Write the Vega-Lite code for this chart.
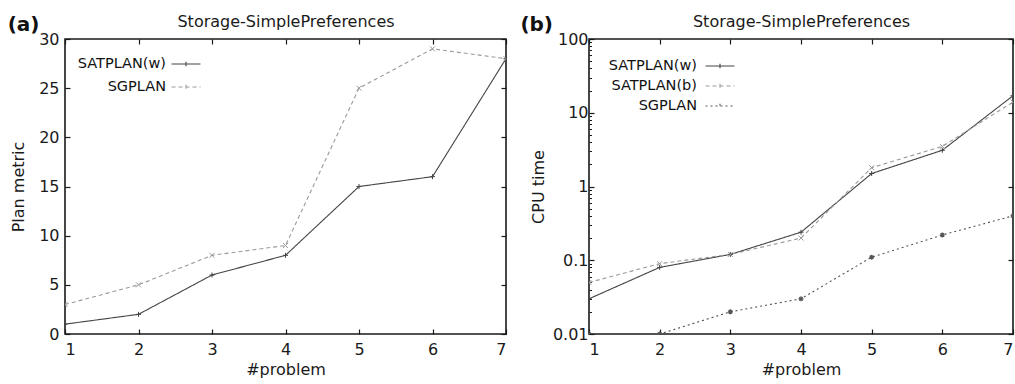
{
  "$schema": "https://vega.github.io/schema/vega-lite/v6.json",
  "padding": {"left": 6, "top": 12, "right": 0, "bottom": 0},
  "bounds": "flush",
  "spacing": 83,
  "background": "white",
  "config": {
    "font": "DejaVu Sans",
    "view": {"stroke": "#1a1a1a", "strokeWidth": 1.6},
    "axis": {"grid": false, "domain": false, "tickColor": "#1a1a1a", "tickSize": -5, "tickWidth": 1.2,
      "labelFont": "DejaVu Sans", "labelFontSize": 16, "labelColor": "#1a1a1a",
      "titleFont": "DejaVu Sans", "titleFontSize": 16, "titleFontWeight": "normal", "titleColor": "#1a1a1a"},
    "title": {"font": "DejaVu Sans", "color": "#111111"}
  },
  "datasets": {
    "metric": [
      {"problem": 1, "planner": "SATPLAN(w)", "value": 1},
      {"problem": 2, "planner": "SATPLAN(w)", "value": 2},
      {"problem": 3, "planner": "SATPLAN(w)", "value": 6},
      {"problem": 4, "planner": "SATPLAN(w)", "value": 8},
      {"problem": 5, "planner": "SATPLAN(w)", "value": 15},
      {"problem": 6, "planner": "SATPLAN(w)", "value": 16},
      {"problem": 7, "planner": "SATPLAN(w)", "value": 28},
      {"problem": 1, "planner": "SGPLAN", "value": 3},
      {"problem": 2, "planner": "SGPLAN", "value": 5},
      {"problem": 3, "planner": "SGPLAN", "value": 8},
      {"problem": 4, "planner": "SGPLAN", "value": 9},
      {"problem": 5, "planner": "SGPLAN", "value": 25},
      {"problem": 6, "planner": "SGPLAN", "value": 29},
      {"problem": 7, "planner": "SGPLAN", "value": 28}
    ],
    "cpu": [
      {"problem": 1, "planner": "SATPLAN(w)", "value": 0.03},
      {"problem": 2, "planner": "SATPLAN(w)", "value": 0.08},
      {"problem": 3, "planner": "SATPLAN(w)", "value": 0.12},
      {"problem": 4, "planner": "SATPLAN(w)", "value": 0.24},
      {"problem": 5, "planner": "SATPLAN(w)", "value": 1.5},
      {"problem": 6, "planner": "SATPLAN(w)", "value": 3.1},
      {"problem": 7, "planner": "SATPLAN(w)", "value": 17},
      {"problem": 1, "planner": "SATPLAN(b)", "value": 0.05},
      {"problem": 2, "planner": "SATPLAN(b)", "value": 0.09},
      {"problem": 3, "planner": "SATPLAN(b)", "value": 0.12},
      {"problem": 4, "planner": "SATPLAN(b)", "value": 0.2},
      {"problem": 5, "planner": "SATPLAN(b)", "value": 1.8},
      {"problem": 6, "planner": "SATPLAN(b)", "value": 3.5},
      {"problem": 7, "planner": "SATPLAN(b)", "value": 14},
      {"problem": 1, "planner": "SGPLAN", "value": 0.01},
      {"problem": 2, "planner": "SGPLAN", "value": 0.01},
      {"problem": 3, "planner": "SGPLAN", "value": 0.02},
      {"problem": 4, "planner": "SGPLAN", "value": 0.03},
      {"problem": 5, "planner": "SGPLAN", "value": 0.11},
      {"problem": 6, "planner": "SGPLAN", "value": 0.22},
      {"problem": 7, "planner": "SGPLAN", "value": 0.4}
    ]
  },
  "resolve": {
    "scale": {"x": "independent", "y": "independent", "color": "independent", "strokeDash": "independent"},
    "legend": {"color": "independent", "strokeDash": "independent"}
  },
  "hconcat": [
    {
      "width": 441, "height": 295,
      "data": {"name": "metric"},
      "title": {"text": "(a)", "anchor": "start", "frame": "bounds", "fontSize": 20, "fontWeight": "bold", "offset": -22, "dx": -3},
      "resolve": {"axis": {"x": "independent", "y": "independent"}},
      "layer": [
        {
          "mark": {"type": "line", "strokeWidth": 1.1, "clip": true},
          "encoding": {
            "x": {"field": "problem", "type": "quantitative", "scale": {"domain": [1, 7], "nice": false, "zero": false},
              "axis": {"orient": "bottom", "values": [1, 2, 3, 4, 5, 6, 7], "format": "d", "title": "#problem", "labelPadding": 12, "titlePadding": 4}},
            "y": {"field": "value", "type": "quantitative", "scale": {"domain": [0, 30], "nice": false},
              "axis": {"orient": "left", "values": [0, 5, 10, 15, 20, 25, 30], "title": "Plan metric", "labelPadding": 11, "titlePadding": 12}},
            "color": {"field": "planner", "type": "nominal", "scale": {"domain": ["SATPLAN(w)", "SGPLAN"], "range": ["#444444", "#9a9a9a"]},
              "legend": {"orient": "none", "legendX": 113, "legendY": 17, "title": null, "symbolType": "M-2,0H2M0,-0.3V0.3", "symbolSize": 210, "symbolStrokeWidth": 1.1, "labelAlign": "right", "labelOffset": -28, "labelFontSize": 14.5, "labelColor": "#111111", "labelFont": "DejaVu Sans", "rowPadding": 8, "padding": 0}},
            "strokeDash": {"field": "planner", "type": "nominal", "scale": {"domain": ["SATPLAN(w)", "SGPLAN"], "range": [[1, 0], [4, 3]]},
              "legend": {"orient": "none", "legendX": 113, "legendY": 17, "title": null, "symbolType": "M-2,0H2M0,-0.3V0.3", "symbolSize": 210, "symbolStrokeWidth": 1.1, "labelAlign": "right", "labelOffset": -28, "labelFontSize": 14.5, "labelColor": "#111111", "labelFont": "DejaVu Sans", "rowPadding": 8, "padding": 0}}
          }
        },
        {
          "transform": [{"filter": "datum.planner === 'SATPLAN(w)'"}],
          "mark": {"type": "point", "filled": false, "size": 25, "strokeWidth": 1, "opacity": 1, "color": "#444444", "shape": "M-1,0H1M0,-1V1", "clip": true},
          "encoding": {
            "x": {"field": "problem", "type": "quantitative", "scale": {"domain": [1, 7], "nice": false, "zero": false},
              "axis": {"orient": "top", "values": [1, 2, 3, 4, 5, 6, 7], "labels": false, "title": "Storage-SimplePreferences", "titlePadding": 9}},
            "y": {"field": "value", "type": "quantitative", "scale": {"domain": [0, 30], "nice": false},
              "axis": {"orient": "right", "values": [0, 5, 10, 15, 20, 25, 30], "labels": false, "title": null}}
          }
        },
        {
          "transform": [{"filter": "datum.planner === 'SGPLAN'"}],
          "mark": {"type": "point", "filled": false, "size": 25, "strokeWidth": 1, "opacity": 1, "color": "#9a9a9a", "shape": "M-1,-1L1,1M-1,1L1,-1", "clip": true},
          "encoding": {
            "x": {"field": "problem", "type": "quantitative", "axis": null},
            "y": {"field": "value", "type": "quantitative", "axis": null}
          }
        }
      ]
    },
    {
      "width": 424, "height": 295,
      "data": {"name": "cpu"},
      "title": {"text": "(b)", "anchor": "start", "frame": "bounds", "fontSize": 20, "fontWeight": "bold", "offset": -22, "dx": -10},
      "resolve": {"axis": {"x": "independent", "y": "independent"}},
      "layer": [
        {
          "mark": {"type": "line", "strokeWidth": 1.1, "clip": true},
          "encoding": {
            "x": {"field": "problem", "type": "quantitative", "scale": {"domain": [1, 7], "nice": false, "zero": false},
              "axis": {"orient": "bottom", "values": [1, 2, 3, 4, 5, 6, 7], "format": "d", "title": "#problem", "labelPadding": 12, "titlePadding": 4, "labelFlush": true}},
            "y": {"field": "value", "type": "quantitative", "scale": {"type": "log", "domain": [0.01, 100], "nice": false},
              "axis": {"orient": "left", "values": [0.01, 0.1, 1, 10, 100], "format": "~g", "title": "CPU time", "labelPadding": 6, "titlePadding": 6}},
            "color": {"field": "planner", "type": "nominal", "scale": {"domain": ["SATPLAN(w)", "SATPLAN(b)", "SGPLAN"], "range": ["#444444", "#9a9a9a", "#555555"]},
              "legend": {"orient": "none", "legendX": 123, "legendY": 19, "title": null, "symbolType": "M-2,0H2M0,-0.3V0.3", "symbolSize": 210, "symbolStrokeWidth": 1.1, "labelAlign": "right", "labelOffset": -31, "labelFontSize": 14.5, "labelColor": "#111111", "labelFont": "DejaVu Sans", "rowPadding": 5, "padding": 0}},
            "strokeDash": {"field": "planner", "type": "nominal", "scale": {"domain": ["SATPLAN(w)", "SATPLAN(b)", "SGPLAN"], "range": [[1, 0], [4, 3], [2, 3]]},
              "legend": {"orient": "none", "legendX": 123, "legendY": 19, "title": null, "symbolType": "M-2,0H2M0,-0.3V0.3", "symbolSize": 210, "symbolStrokeWidth": 1.1, "labelAlign": "right", "labelOffset": -31, "labelFontSize": 14.5, "labelColor": "#111111", "labelFont": "DejaVu Sans", "rowPadding": 5, "padding": 0}}
          }
        },
        {
          "transform": [{"filter": "datum.planner === 'SATPLAN(w)'"}],
          "mark": {"type": "point", "filled": false, "size": 25, "strokeWidth": 1, "opacity": 1, "color": "#444444", "shape": "M-1,0H1M0,-1V1", "clip": true},
          "encoding": {
            "x": {"field": "problem", "type": "quantitative", "scale": {"domain": [1, 7], "nice": false, "zero": false},
              "axis": {"orient": "top", "values": [1, 2, 3, 4, 5, 6, 7], "labels": false, "title": "Storage-SimplePreferences", "titlePadding": 9}},
            "y": {"field": "value", "type": "quantitative", "scale": {"type": "log", "domain": [0.01, 100], "nice": false},
              "axis": {"orient": "right", "values": [0.01, 0.1, 1, 10, 100], "labels": false, "title": null}}
          }
        },
        {
          "transform": [{"filter": "datum.planner === 'SATPLAN(b)'"}],
          "mark": {"type": "point", "filled": false, "size": 25, "strokeWidth": 1, "opacity": 1, "color": "#9a9a9a", "shape": "M-1,-1L1,1M-1,1L1,-1", "clip": true},
          "encoding": {
            "x": {"field": "problem", "type": "quantitative", "axis": null},
            "y": {"field": "value", "type": "quantitative", "axis": null}
          }
        },
        {
          "transform": [{"filter": "datum.planner === 'SGPLAN'"}],
          "mark": {"type": "point", "filled": false, "size": 25, "strokeWidth": 1.2, "opacity": 1, "color": "#555555", "shape": "M-1,0H1M0,-1V1M-0.7,-0.7L0.7,0.7M-0.7,0.7L0.7,-0.7", "clip": true},
          "encoding": {
            "x": {"field": "problem", "type": "quantitative", "axis": null},
            "y": {"field": "value", "type": "quantitative", "axis": null}
          }
        },
        {
          "mark": {"type": "point", "opacity": 0},
          "encoding": {
            "x": {"field": "problem", "type": "quantitative", "axis": null},
            "y": {"field": "value", "type": "quantitative",
              "axis": {"orient": "left", "values": [0.02, 0.03, 0.04, 0.05, 0.06, 0.07, 0.08, 0.09, 0.2, 0.3, 0.4, 0.5, 0.6, 0.7, 0.8, 0.9, 2, 3, 4, 5, 6, 7, 8, 9, 20, 30, 40, 50, 60, 70, 80, 90], "labels": false, "title": null, "tickSize": -2.5, "tickWidth": 1}}
          }
        }
      ]
    }
  ]
}
